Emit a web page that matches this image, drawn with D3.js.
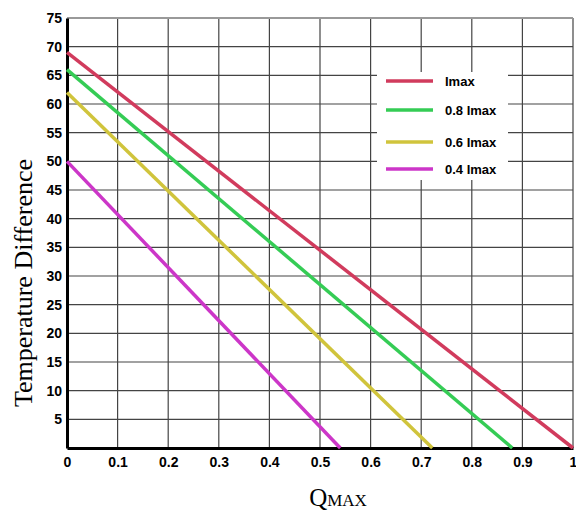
<!DOCTYPE html>
<html>
<head>
<meta charset="utf-8">
<script src="https://cdn.jsdelivr.net/npm/d3@7"></script>
<style>
  body { margin: 0; background: #fff; }
  svg { display: block; }
  .tick text { font-family: Arial, "Liberation Sans", sans-serif; font-weight: bold; font-size: 14px; fill: #000; }
</style>
</head>
<body>
<div id="chart"></div>
<script>
// valeurs
const seriesNames = ['Imax', '0.8 Imax', '0.6 Imax', '0.4 Imax']
const seriesColors = ['#d13b5d', '#35cc55', '#d0c43c', '#cc36c8']
const startValues = [69, 66, 62, 50]      // temperature difference at Q = 0
const endQ = [1.0, 0.88, 0.722, 0.54]     // Q where the difference hits 0
const xTicks = [0, 0.1, 0.2, 0.3, 0.4, 0.5, 0.6, 0.7, 0.8, 0.9, 1]
const yTicks = [5, 10, 15, 20, 25, 30, 35, 40, 45, 50, 55, 60, 65, 70, 75]

const width = 576, height = 515
const margin = { top: 18, right: 3, bottom: 67, left: 67 }
const iw = width - margin.left - margin.right
const ih = height - margin.top - margin.bottom

const svg = d3.select('#chart').append('svg')
  .attr('width', width)
  .attr('height', height)

const g = svg.append('g').attr('transform', `translate(${margin.left},${margin.top})`)

const x = d3.scaleLinear().domain([0, 1]).range([0, iw])
const y = d3.scaleLinear().domain([0, 75]).range([ih, 0])

// grille
g.selectAll('.vgrid')
  .data(xTicks.slice(1))
  .enter()
  .append('line')
  .attr('class', 'vgrid')
  .attr('x1', d => x(d)).attr('x2', d => x(d))
  .attr('y1', 0).attr('y2', ih)
  .attr('stroke', '#444')
  .attr('stroke-width', 1.2)

g.selectAll('.hgrid')
  .data(yTicks.slice(0, -1))
  .enter()
  .append('line')
  .attr('class', 'hgrid')
  .attr('x1', 0).attr('x2', iw)
  .attr('y1', d => y(d)).attr('y2', d => y(d))
  .attr('stroke', '#444')
  .attr('stroke-width', 1.2)

// bord du haut, gris
g.append('line')
  .attr('x1', 0).attr('x2', iw)
  .attr('y1', y(75)).attr('y2', y(75))
  .attr('stroke', '#999')
  .attr('stroke-width', 2)

// axes
const xAxis = g.append('g')
  .attr('transform', `translate(0,${ih})`)
  .call(d3.axisBottom(x).tickValues(xTicks).tickSize(0).tickPadding(9)
    .tickFormat(d => d === 0 ? '0' : d === 1 ? '1' : d3.format('.1f')(d)))
xAxis.select('.domain').attr('stroke', '#000').attr('stroke-width', 3)

const yAxis = g.append('g')
  .call(d3.axisLeft(y).tickValues(yTicks).tickSize(0).tickPadding(5))
yAxis.select('.domain').attr('stroke', '#000').attr('stroke-width', 3)

// boîte de légende (fond blanc)
const legend = g.append('g').attr('transform', `translate(${377 - margin.left},${72 - margin.top})`)
legend.append('rect')
  .attr('width', 131)
  .attr('height', 108)
  .attr('fill', '#fff')

// courbes
const series = seriesNames.map((name, i) => ({
  name,
  color: seriesColors[i],
  pts: [{ q: 0, t: startValues[i] }, { q: endQ[i], t: 0 }]
}))

const line = d3.line()
  .x(d => x(d.q))
  .y(d => y(d.t))

g.selectAll('.serie')
  .data(series)
  .enter()
  .append('path')
  .attr('class', 'serie')
  .attr('d', d => line(d.pts))
  .attr('fill', 'none')
  .attr('stroke', d => d.color)
  .attr('stroke-width', 3.5)

const legendY = [9, 38, 70, 97]
const items = legend.selectAll('.item')
  .data(series)
  .enter()
  .append('g')
  .attr('class', 'item')
  .attr('transform', (d, i) => `translate(0,${legendY[i]})`)
items.append('line')
  .attr('x1', 9).attr('x2', 56)
  .attr('stroke', d => d.color)
  .attr('stroke-width', 3.5)
items.append('text')
  .attr('x', 68).attr('y', 4.5)
  .attr('font-family', 'Arial, "Liberation Sans", sans-serif')
  .attr('font-weight', 'bold')
  .attr('font-size', 13)
  .text(d => d.name)

// titres
svg.append('text')
  .attr('transform', 'translate(32,283) rotate(-90)')
  .attr('text-anchor', 'middle')
  .attr('font-family', '"Liberation Serif", "Times New Roman", serif')
  .attr('font-size', 26)
  .text('Temperature Difference')

const xt = svg.append('text')
  .attr('x', 338).attr('y', 506)
  .attr('text-anchor', 'middle')
  .attr('font-family', '"Liberation Serif", "Times New Roman", serif')
xt.append('tspan').attr('font-size', 25).text('Q')
xt.append('tspan').attr('font-size', 17).text('MAX')
</script>
</body>
</html>
